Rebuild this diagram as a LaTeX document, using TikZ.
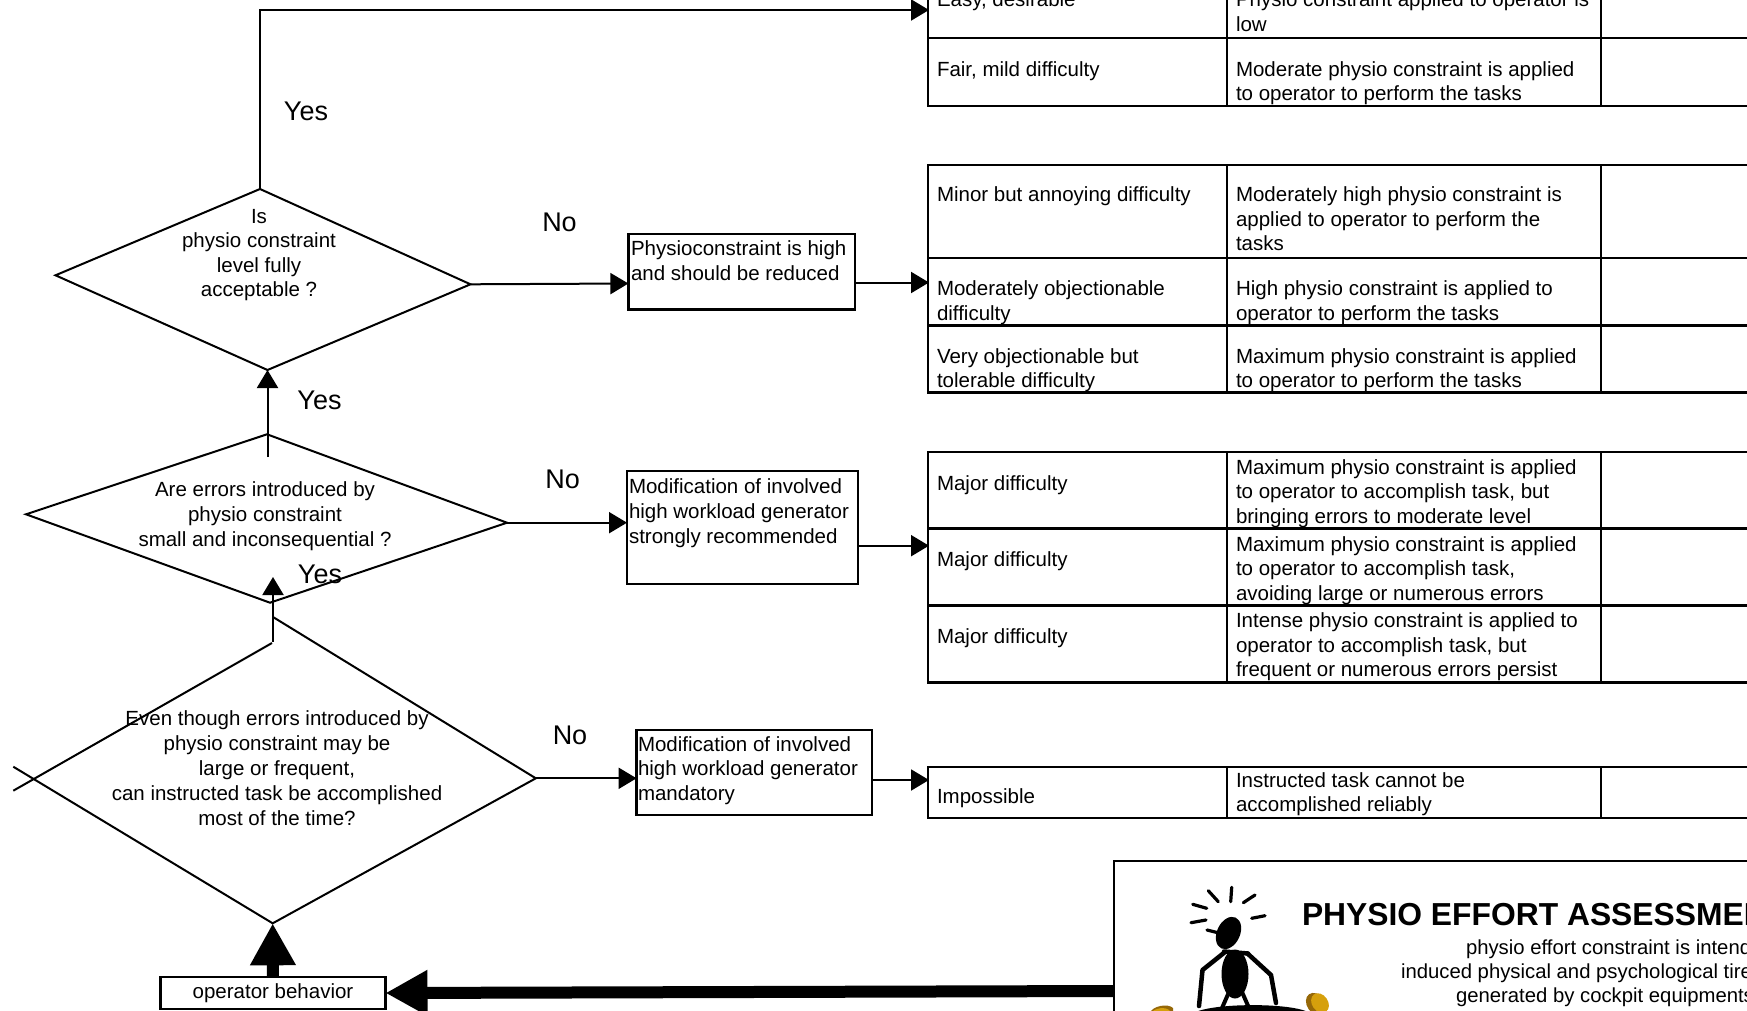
\documentclass[tikz,border=0pt]{standalone}
\usepackage{fontspec}
\setmainfont{Liberation Sans}
\usetikzlibrary{arrows.meta,calc}
\definecolor{goldlt}{RGB}{214,160,12}
\definecolor{golddk}{RGB}{150,104,8}
% one line of text, left-aligned on its baseline
\newcommand\tx[4]{\node[txt,anchor=base west] (#1) at (#2,#3) {#4};}
% one line of text, centred on its baseline
\newcommand\tcn[4]{\node[txt,anchor=base] (#1) at (#2,#3) {#4};}
\begin{document}
\begin{tikzpicture}[x=1pt,y=-1pt,
  every node/.style={inner sep=0pt,outer sep=0pt},
  txt/.style={font=\fontsize{20.5}{24.6}\selectfont},
  lbl/.style={font=\fontsize{27}{30}\selectfont},
  flow/.style={line width=2pt},
  arr/.style={line width=2pt,-{Triangle[length=18pt,width=21pt]}},
  fat/.style={line width=12pt,-{Triangle[length=42pt,width=43pt]}},
  grid/.style={line width=2.6pt},
  boxed/.style={draw,rectangle,line width=2.6pt},
]
\clip (0,0) rectangle (1747,1011);
\fill[white] (0,0) rectangle (1747,1011);

% ---------------- rating tables ----------------
% table 1
\draw[grid] (928,-32) rectangle (1800,106);
\draw[grid] (928,38) -- (1800,38);
\draw[grid] (1227,-32) -- (1227,106) (1601,-32) -- (1601,106);
% table 2
\draw[grid] (928,165) rectangle (1800,392.5);
\draw[grid] (928,258) -- (1800,258) (928,325.5) -- (1800,325.5);
\draw[grid] (1227,165) -- (1227,392.5) (1601,165) -- (1601,392.5);
% table 3
\draw[grid] (928,452) rectangle (1800,682.5);
\draw[grid] (928,528.5) -- (1800,528.5) (928,605.5) -- (1800,605.5);
\draw[grid] (1227,452) -- (1227,682.5) (1601,452) -- (1601,682.5);
% table 4
\draw[grid] (928,767) rectangle (1800,818);
\draw[grid] (1227,767) -- (1227,818) (1601,767) -- (1601,818);

% table texts
\tx{a1}{937}{7}{Easy, desirable}
\tx{a1r}{1236}{7}{Physio constraint applied to operator is}
\tx{a1s}{1236}{31.5}{low}
\tx{a2}{937}{76.5}{Fair, mild difficulty}
\tx{a2r}{1236}{76.5}{Moderate physio constraint is applied}
\tx{a2s}{1236}{101}{to operator to perform the tasks}

\tx{b1}{937}{201.5}{Minor but annoying difficulty}
\tx{b1r}{1236}{201.5}{Moderately high physio constraint is}
\tx{b1s}{1236}{226}{applied to operator to perform the}
\tx{b1t}{1236}{250.5}{tasks}
\tx{b2}{937}{295}{Moderately objectionable}
\tx{b2b}{937}{320}{difficulty}
\tx{b2r}{1236}{295}{High physio constraint is applied to}
\tx{b2s}{1236}{320}{operator to perform the tasks}
\tx{b3}{937}{363}{Very objectionable but}
\tx{b3b}{937}{387.5}{tolerable difficulty}
\tx{b3r}{1236}{363}{Maximum physio constraint is applied}
\tx{b3s}{1236}{387.5}{to operator to perform the tasks}

\tx{c1}{937}{490}{Major difficulty}
\tx{c1r}{1236}{474}{Maximum physio constraint is applied}
\tx{c1s}{1236}{498.5}{to operator to accomplish task, but}
\tx{c1t}{1236}{523}{bringing errors to moderate level}
\tx{c2}{937}{566.5}{Major difficulty}
\tx{c2r}{1236}{551}{Maximum physio constraint is applied}
\tx{c2s}{1236}{575.5}{to operator to accomplish task,}
\tx{c2t}{1236}{600}{avoiding large or numerous errors}
\tx{c3}{937}{643}{Major difficulty}
\tx{c3r}{1236}{627.5}{Intense physio constraint is applied to}
\tx{c3s}{1236}{652}{operator to accomplish task, but}
\tx{c3t}{1236}{676.5}{frequent or numerous errors persist}

\tx{e1}{937}{803}{Impossible}
\tx{e1r}{1236}{787}{Instructed task cannot be}
\tx{e1s}{1236}{811.5}{accomplished reliably}

% ---------------- decision 1 ----------------
\coordinate (d1t) at (260,189);
\coordinate (d1r) at (470.5,284.3);
\coordinate (d1b) at (267.5,370);
\coordinate (d1l) at (55.5,275.3);
\draw[flow] (d1t) -- (d1r) -- (d1b) -- (d1l) -- cycle;
\tcn{q1a}{259}{223}{Is}
\tcn{q1b}{259}{247.5}{physio constraint}
\tcn{q1c}{259}{272}{level fully}
\tcn{q1d}{259}{296.5}{acceptable ?}

\coordinate (bend) at (260,10);
\coordinate (t1in) at (929,10);
\draw[arr] (d1t) -- (bend) -- (t1in);
\node[lbl] (yes1) at (306,111.7) {Yes};

\node[boxed,anchor=north west,minimum width=226.5pt,minimum height=75.5pt] (bx1) at (628.4,234) {};
\tx{bx1a}{631}{255.5}{Physioconstraint is high}
\tx{bx1b}{631}{280}{and should be reduced}
\coordinate (bx1in) at (628.4,283.5);
\draw[arr] (d1r) -- (bx1in);
\node[lbl] (no1) at (559.5,222.7) {No};
\coordinate (bx1out) at (854.6,282.5);
\coordinate (t2in) at (929,282.5);
\draw[arr] (bx1out) -- (t2in);

% ---------------- decision 2 ----------------
\coordinate (d2t) at (267,434.3);
\coordinate (d2r) at (507,522.7);
\coordinate (d2b) at (270,602.7);
\coordinate (d2l) at (26,514.3);
\draw[flow] (d2t) -- (d2r) -- (d2b) -- (d2l) -- cycle;
\tcn{q2a}{265}{496.5}{Are errors introduced by}
\tcn{q2b}{265}{521.5}{physio constraint}
\tcn{q2c}{265}{546.5}{small and inconsequential ?}

\coordinate (d2stem) at (267.5,457);
\draw[arr] (d2stem) -- (d1b);
\node[lbl] (yes2) at (319.5,400) {Yes};

\node[boxed,anchor=north west,minimum width=231pt,minimum height=113pt] (bx2) at (627,471) {};
\tx{bx2a}{629}{493.5}{Modification of involved}
\tx{bx2b}{629}{518.3}{high workload generator}
\tx{bx2c}{629}{543}{strongly recommended}
\coordinate (bx2in) at (627,522.7);
\draw[arr] (d2r) -- (bx2in);
\node[lbl] (no2) at (562.6,479.3) {No};
\coordinate (bx2out) at (858,545.7);
\coordinate (t3in) at (929,545.7);
\draw[arr] (bx2out) -- (t3in);

% ---------------- decision 3 ----------------
\coordinate (d3tr) at (273,617);
\coordinate (d3r) at (535.8,778.3);
\coordinate (d3b) at (272.7,923.3);
\coordinate (d3x1) at (13.3,766.7);
\coordinate (d3tl) at (272,643);
\coordinate (d3x2) at (13.3,790.7);
\draw[flow] (d3tr) -- (d3r) -- (d3b) -- (d3x1);
\draw[flow] (d3tl) -- (d3x2);
\tcn{q3a}{277}{725.5}{Even though errors introduced by}
\tcn{q3b}{277}{750.5}{physio constraint may be}
\tcn{q3c}{277}{775.5}{large or frequent,}
\tcn{q3d}{277}{800}{can instructed task be accomplished}
\tcn{q3e}{277}{825}{most of the time?}

\coordinate (d3stem) at (273,642);
\coordinate (d2in) at (273,577);
\draw[arr] (d3stem) -- (d2in);
\node[lbl] (yes3) at (320,574) {Yes};

\node[boxed,anchor=north west,minimum width=235.4pt,minimum height=85pt] (bx3) at (636.6,730) {};
\tx{bx3a}{638}{751}{Modification of involved}
\tx{bx3b}{638}{775.5}{high workload generator}
\tx{bx3c}{638}{800}{mandatory}
\coordinate (bx3in) at (636.6,778.3);
\draw[arr] (d3r) -- (bx3in);
\node[lbl] (no3) at (570,735) {No};
\coordinate (bx3out) at (872,780);
\coordinate (t4in) at (929,780);
\draw[arr] (bx3out) -- (t4in);

% ---------------- operator behaviour and assessment panel ----------------
\node[boxed,txt,minimum width=225pt,minimum height=32pt] (ob) at (273,993) {operator behavior};
\draw[fat] (ob.north) -- (d3b);

\node[boxed,anchor=north west,minimum width=800pt,minimum height=300pt] (pea) at (1114,861) {};
\coordinate (peaout) at (1114,991);
\draw[fat] (peaout) -- (ob.east);

\node[font=\bfseries\fontsize{31.8}{36}\selectfont,anchor=base west] (peat) at (1302,925) {PHYSIO EFFORT ASSESSMENT};
\node[font=\fontsize{20.3}{24}\selectfont,anchor=base west] (pe1) at (1466,954) {physio effort constraint is intended};
\node[font=\fontsize{20.3}{24}\selectfont,anchor=base west] (pe2) at (1401,978) {induced physical and psychological tiredness};
\node[font=\fontsize{20.3}{24}\selectfont,anchor=base west] (pe3) at (1456,1002) {generated by cockpit equipments};

% stressed little figure at the desk
\begin{scope}[line cap=round,line width=3.2pt]
  \draw (1208.3,890.7) -- (1218.3,901.7);
  \draw (1231.7,887.3) -- (1230.7,901.7);
  \draw (1243.3,902.7) -- (1255,895);
  \draw (1192.7,904.3) -- (1206.7,908.3);
  \draw (1191,922.7) -- (1206,920);
  \draw (1251.7,918.3) -- (1265,915.7);
  \draw (1207,930) -- (1219,933);
\end{scope}
\fill[rotate around={-25:(1228.5,933)}] (1228.5,933) ellipse (11.5 and 17);
\fill (1235,974) ellipse (13.5 and 24.5);
\draw[line width=4.5pt,line cap=round,line join=round] (1224,951.5) -- (1248,953.5);
\draw[line width=4.5pt,line cap=round,line join=round] (1225,952) -- (1202.5,970) -- (1199,1006);
\draw[line width=4.5pt,line cap=round,line join=round] (1247.5,953.5) -- (1271,975) -- (1276,1003);
\draw[line width=4pt,line cap=round] (1229,992) -- (1222,1008) (1242,992) -- (1249,1008);
\fill (1194,1013) .. controls (1210,1003) and (1292,1002) .. (1310,1013) -- cycle;
\fill[golddk] (1150,1013) .. controls (1152,1006) and (1168,1003) .. (1173,1008) -- (1173,1013) -- cycle;
\fill[goldlt] (1151,1013) .. controls (1154,1008) and (1166,1006) .. (1170,1011) -- cycle;
\fill[golddk, rotate around={-55:(1316,1004)}] (1316,1004) ellipse (12 and 9);
\fill[goldlt, rotate around={-55:(1320,1003)}] (1320,1003) ellipse (10.5 and 8);
\end{tikzpicture}
\end{document}
